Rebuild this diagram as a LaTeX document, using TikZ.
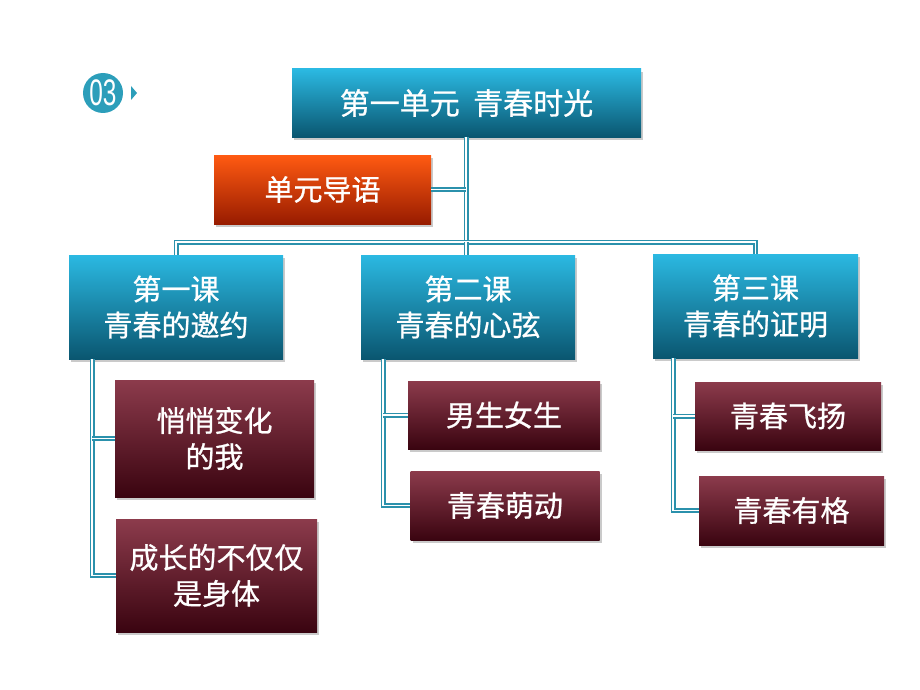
\documentclass[tikz,border=0pt]{standalone}
\usepackage{fontspec}
\setmainfont{Liberation Sans}
\newfontfamily\cjk[FakeBold=0.8]{Noto Sans CJK SC}
\usetikzlibrary{shadows}
\definecolor{bluetop}{HTML}{2BB9E2}
\definecolor{bluebot}{HTML}{0A5670}
\definecolor{redtop}{HTML}{8C3B4C}
\definecolor{redbot}{HTML}{3A0410}
\definecolor{orgtop}{HTML}{FF5A12}
\definecolor{orgbot}{HTML}{981C00}
\definecolor{linec}{HTML}{2B91AC}
\definecolor{badge}{HTML}{2C9EBA}
\tikzset{
  box/.style={rectangle, inner sep=2pt, align=center, text=white,
    font=\cjk\fontsize{29}{36}\selectfont, draw=none,
    drop shadow={shadow xshift=2pt, shadow yshift=-3pt, opacity=0.35, fill=black!60}},
  bluebox/.style={box, top color=bluetop, bottom color=bluebot},
  redbox/.style={box, top color=redtop, bottom color=redbot},
  orgbox/.style={box, top color=orgtop, bottom color=orgbot},
  conn/.style={draw=linec, line width=1.8pt, double=white, double distance=1.4pt}
}
\begin{document}
\begin{tikzpicture}[x=1pt,y=-1pt]
\useasboundingbox (0,0) rectangle (920,690);
% badge
\node[circle, fill=badge, minimum size=40pt, inner sep=0pt] (badge) at (103,93) {};
\node[text=white, font=\fontsize{37}{37}\selectfont, xscale=0.66] (num) at (badge.center) {03};
\fill[badge] (131,86) -- (137,93) -- (131,100) -- cycle;
% nodes
\node[bluebox, minimum width=349pt, minimum height=68pt, font=\cjk\fontsize{30}{36}\selectfont] (top) at (466.5,103) {第一单元\ \ 青春时光};
\node[orgbox, minimum width=217pt, minimum height=69pt] (intro) at (322.5,189.5) {单元导语};
\node[bluebox, minimum width=214pt, minimum height=104pt] (L1) at (176,307) {第一课\\青春的邀约};
\node[bluebox, minimum width=214pt, minimum height=104pt] (L2) at (468,307) {第二课\\青春的心弦};
\node[bluebox, minimum width=205pt, minimum height=104pt] (L3) at (755.5,306) {第三课\\青春的证明};
\node[redbox, minimum width=199pt, minimum height=117pt] (a1) at (214.5,438.5) {悄悄变化\\的我};
\node[redbox, minimum width=201pt, minimum height=113pt] (a2) at (216.5,575.5) {成长的不仅仅\\是身体};
\node[redbox, minimum width=192pt, minimum height=68pt] (b1) at (504,415) {男生女生};
\node[redbox, minimum width=189pt, minimum height=69pt] (b2) at (505,505.5) {青春萌动};
\node[redbox, minimum width=186pt, minimum height=68pt] (c1) at (788,416) {青春飞扬};
\node[redbox, minimum width=185pt, minimum height=69pt] (c2) at (791.5,510.5) {青春有格};
% connectors
\coordinate (j) at (466,242);
\coordinate (v1) at (92,359);
\coordinate (v2) at (383,359);
\coordinate (v3) at (673,358);
\draw[conn] (top.south -| j) -- (j);
\draw[conn] (intro.east) -- (intro.east -| j);
\draw[conn] (L1.north) |- (j) -| (L3.north);
\draw[conn] (j) -- (j |- L2.north);
\draw[conn] (L1.south -| v1) |- (a2.west);
\draw[conn] (v1 |- a1.west) -- (a1.west);
\draw[conn] (L2.south -| v2) |- (b2.west);
\draw[conn] (v2 |- b1.west) -- (b1.west);
\draw[conn] (L3.south -| v3) |- (c2.west);
\draw[conn] (v3 |- c1.west) -- (c1.west);
\end{tikzpicture}
\end{document}
